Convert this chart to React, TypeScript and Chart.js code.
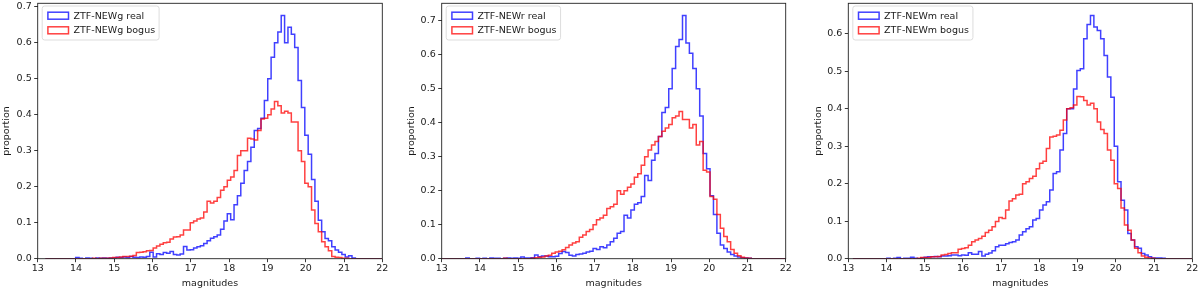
import React, { useEffect, useRef } from 'react';
import { Chart, registerables } from 'chart.js';

Chart.register(...registerables);

// ---------- data ----------
const magnitudeTicks = [13, 14, 15, 16, 17, 18, 19, 20, 21, 22];
const proportionTicks = [0, 0.1, 0.2, 0.3, 0.4, 0.5, 0.6, 0.7];
const magnitudeMin = 13;
const magnitudeMax = 22;

// histogram bin ranges (100 equal bins each)
const gBinRange = [13.2, 22.0];
const rBinRange = [13.0, 22.0];
const mBinRange = [13.12, 22.0];

const gLabels = ['ZTF-NEWg real', 'ZTF-NEWg bogus'];
const rLabels = ['ZTF-NEWr real', 'ZTF-NEWr bogus'];
const mLabels = ['ZTF-NEWm real', 'ZTF-NEWm bogus'];

const gReal = [
  0, 0, 0, 0, 0, 0, 0, 0, 0, 0.003,
  0.001, 0, 0.002, 0.001, 0, 0.002, 0.001, 0.002, 0.001, 0.002,
  0.002, 0.004, 0.003, 0.005, 0.003, 0.006, 0.004, 0.003, 0.005, 0.004,
  0.006, 0.018, 0.005, 0.014, 0.012, 0.017, 0.015, 0.02, 0.012, 0.01,
  0.013, 0.034, 0.024, 0.025, 0.03, 0.033, 0.036, 0.042, 0.05, 0.057,
  0.061, 0.066, 0.082, 0.105, 0.125, 0.108, 0.15, 0.175, 0.21, 0.245,
  0.27, 0.31, 0.356, 0.362, 0.39, 0.44, 0.5, 0.56, 0.6, 0.63,
  0.676, 0.6, 0.643, 0.624, 0.587, 0.495, 0.42, 0.343, 0.29, 0.22,
  0.16, 0.107, 0.075, 0.056, 0.05, 0.033, 0.024, 0.018, 0.012, 0.005,
  0.008, 0.002, 0, 0, 0, 0, 0, 0, 0, 0,
];
const gBogus = [
  0, 0, 0, 0, 0, 0, 0, 0, 0, 0,
  0, 0, 0, 0, 0.001, 0, 0.001, 0.001, 0.001, 0.002,
  0.003, 0.003, 0.005, 0.006, 0.006, 0.007, 0.009, 0.017, 0.018, 0.019,
  0.022, 0.023, 0.03, 0.035, 0.04, 0.044, 0.046, 0.055, 0.06, 0.061,
  0.066, 0.08, 0.08, 0.1, 0.105, 0.11, 0.113, 0.13, 0.16, 0.155,
  0.16, 0.17, 0.19, 0.2, 0.218, 0.227, 0.245, 0.287, 0.3, 0.3,
  0.335, 0.333, 0.33, 0.356, 0.388, 0.39, 0.4, 0.416, 0.437, 0.425,
  0.405, 0.41, 0.405, 0.38, 0.38, 0.3, 0.27, 0.21, 0.2, 0.135,
  0.098, 0.075, 0.047, 0.033, 0.022, 0.006, 0.004, 0.003, 0.001, 0.001,
  0, 0, 0, 0, 0, 0, 0, 0, 0, 0,
];

const rReal = [
  0, 0, 0, 0, 0, 0, 0, 0.002, 0, 0,
  0.001, 0, 0.001, 0, 0.002, 0.001, 0.001, 0, 0.001, 0.002,
  0.001, 0.002, 0.001, 0.005, 0.002, 0.002, 0.003, 0.011, 0.006, 0.008,
  0.008, 0.006, 0.006, 0.007, 0.015, 0.021, 0.018, 0.01, 0.008, 0.012,
  0.014, 0.016, 0.02, 0.022, 0.03, 0.027, 0.035, 0.032, 0.04, 0.05,
  0.06, 0.075, 0.08, 0.128, 0.12, 0.143, 0.16, 0.165, 0.183, 0.245,
  0.23, 0.29, 0.31, 0.36, 0.43, 0.445, 0.5, 0.56, 0.625, 0.645,
  0.716, 0.635, 0.605, 0.56, 0.5, 0.42, 0.31, 0.265, 0.185, 0.13,
  0.075, 0.04, 0.03, 0.02, 0.012, 0.008, 0.005, 0.003, 0.002, 0.001,
  0, 0, 0, 0, 0, 0, 0, 0, 0, 0,
];
const rBogus = [
  0, 0, 0, 0, 0, 0, 0, 0, 0, 0,
  0, 0, 0, 0, 0, 0, 0, 0, 0.001, 0,
  0, 0, 0, 0, 0, 0, 0.001, 0.003, 0.004, 0.005,
  0.008, 0.01, 0.016, 0.02, 0.022, 0.026, 0.033, 0.04, 0.046, 0.05,
  0.063, 0.07, 0.08, 0.086, 0.1, 0.115, 0.12, 0.128, 0.148, 0.153,
  0.16, 0.2, 0.19, 0.2, 0.21, 0.22, 0.24, 0.25, 0.275, 0.3,
  0.32, 0.335, 0.345, 0.36, 0.375, 0.385, 0.395, 0.415, 0.42, 0.433,
  0.41, 0.41, 0.385, 0.395, 0.335, 0.345, 0.26, 0.255, 0.183, 0.175,
  0.13, 0.09, 0.065, 0.05, 0.027, 0.016, 0.009, 0.004, 0.002, 0.001,
  0, 0, 0, 0, 0, 0, 0, 0, 0, 0,
];

const mReal = [
  0, 0, 0, 0, 0, 0, 0, 0, 0, 0,
  0.001, 0, 0.001, 0.003, 0, 0.001, 0.001, 0.004, 0.001, 0,
  0.002, 0.004, 0.005, 0.005, 0.006, 0.005, 0.007, 0.007, 0.008, 0.01,
  0.01, 0.008, 0.01, 0.009, 0.016, 0.012, 0.012, 0.019, 0.007, 0.012,
  0.015, 0.021, 0.032, 0.036, 0.036, 0.04, 0.043, 0.045, 0.05, 0.063,
  0.072, 0.08, 0.085, 0.103, 0.107, 0.13, 0.143, 0.152, 0.183, 0.227,
  0.232, 0.29, 0.334, 0.4, 0.4, 0.453, 0.502, 0.507, 0.587, 0.625,
  0.649, 0.618, 0.609, 0.587, 0.542, 0.485, 0.431, 0.3, 0.205, 0.156,
  0.13, 0.067, 0.05, 0.032, 0.028, 0.014, 0.01, 0.005, 0.002, 0.002,
  0.002, 0.001, 0, 0, 0, 0, 0, 0, 0, 0,
];
const mBogus = [
  0, 0, 0, 0, 0, 0, 0, 0, 0, 0,
  0, 0, 0, 0, 0, 0, 0, 0, 0, 0.001,
  0.003, 0.003, 0.003, 0.005, 0.005, 0.006, 0.01, 0.011, 0.014, 0.016,
  0.016, 0.025, 0.027, 0.029, 0.036, 0.045, 0.05, 0.054, 0.06, 0.07,
  0.076, 0.085, 0.099, 0.11, 0.107, 0.13, 0.154, 0.16, 0.17, 0.172,
  0.2, 0.205, 0.214, 0.22, 0.24, 0.255, 0.26, 0.294, 0.325, 0.327,
  0.33, 0.343, 0.37, 0.4, 0.403, 0.41, 0.433, 0.432, 0.422, 0.41,
  0.415, 0.4, 0.365, 0.345, 0.334, 0.29, 0.263, 0.2, 0.187, 0.135,
  0.09, 0.076, 0.05, 0.028, 0.016, 0.007, 0.004, 0.002, 0.001, 0,
  0, 0, 0, 0, 0, 0, 0, 0, 0, 0,
];

const panels = [
  { binRange: gBinRange, real: gReal, bogus: gBogus, labels: gLabels },
  { binRange: rBinRange, real: rReal, bogus: rBogus, labels: rLabels },
  { binRange: mBinRange, real: mReal, bogus: mBogus, labels: mLabels },
];

// ---------- layout / style ----------
const panelLayout = [
  { left: 0, yAxisWidth: 37.7, rightPad: 17.7, yTitleOffset: 1 },
  { left: 400, yAxisWidth: 41.7, rightPad: 14.3, yTitleOffset: 6 },
  { left: 800, yAxisWidth: 48.3, rightPad: 7.7, yTitleOffset: 12.6 },
];
const FONT = "'DejaVu Sans', 'Liberation Sans', sans-serif";
const FONT_SIZE = 9.5;
const TEXT_COLOR = '#1a1a1a';
const BLUE = 'rgba(0,0,255,0.75)';
const RED = 'rgba(255,0,0,0.75)';
const LINE_WIDTH = 1.5;

function histPoints(range: number[], values: number[]) {
  const w = (range[1] - range[0]) / values.length;
  const pts: { x: number; y: number }[] = [{ x: range[0], y: 0 }];
  values.forEach((v, i) => pts.push({ x: range[0] + i * w, y: v }));
  pts.push({ x: range[1], y: 0 });
  return pts;
}

const framePlugin = {
  id: 'mplFrame',
  afterDatasetsDraw(chart: any) {
    const { ctx, chartArea: a } = chart;
    ctx.save();
    ctx.strokeStyle = '#222';
    ctx.lineWidth = 0.9;
    ctx.strokeRect(a.left, a.top, a.right - a.left, a.bottom - a.top);
    ctx.restore();
  },
};

const legendPlugin = {
  id: 'mplLegend',
  afterDraw(chart: any) {
    const { ctx, chartArea: a } = chart;
    const items = chart.data.datasets.map((d: any) => ({ label: d.label, color: d.borderColor }));
    ctx.save();
    ctx.font = `${FONT_SIZE}px ${FONT}`;
    const textW = Math.max(...items.map((it: any) => ctx.measureText(it.label).width));
    const x0 = a.left + 4.5;
    const y0 = a.top + 2.7;
    const w = 31.3 + textW + 4;
    const h = 34;
    ctx.beginPath();
    (ctx as any).roundRect(x0, y0, w, h, 2.5);
    ctx.fillStyle = 'rgba(255,255,255,0.8)';
    ctx.fill();
    ctx.strokeStyle = '#d4d4d4';
    ctx.lineWidth = 0.8;
    ctx.stroke();
    items.forEach((it: any, i: number) => {
      const cy = y0 + 9.7 + i * 14.6;
      ctx.strokeStyle = it.color;
      ctx.lineWidth = LINE_WIDTH;
      ctx.strokeRect(x0 + 5.7, cy - 3.5, 20.6, 7);
      ctx.fillStyle = TEXT_COLOR;
      ctx.textBaseline = 'middle';
      ctx.textAlign = 'left';
      ctx.fillText(it.label, x0 + 31.3, cy + 0.5);
    });
    ctx.restore();
  },
};

function HistPanel({ index }: { index: number }) {
  const ref = useRef<HTMLCanvasElement>(null);
  const panel = panels[index];
  const layout = panelLayout[index];

  useEffect(() => {
    if (!ref.current) return;
    const yMax = Math.max(...panel.real, ...panel.bogus) * 1.05;
    const font = { family: FONT, size: FONT_SIZE };
    const grid = {
      display: true,
      drawOnChartArea: false,
      drawTicks: true,
      tickLength: 3.5,
      color: '#222',
      lineWidth: 0.9,
    };
    const chart = new Chart(ref.current, {
      type: 'line',
      data: {
        datasets: [
          {
            label: panel.labels[0],
            data: histPoints(panel.binRange, panel.real),
            borderColor: BLUE,
            borderWidth: LINE_WIDTH,
            stepped: true,
            pointRadius: 0,
            fill: false,
            order: 1,
          },
          {
            label: panel.labels[1],
            data: histPoints(panel.binRange, panel.bogus),
            borderColor: RED,
            borderWidth: LINE_WIDTH,
            stepped: true,
            pointRadius: 0,
            fill: false,
            order: 0,
          },
        ],
      },
      options: {
        responsive: false,
        animation: false,
        devicePixelRatio: 1,
        layout: { padding: { top: 3.3, right: layout.rightPad, left: 0, bottom: 0 } },
        plugins: { legend: { display: false }, tooltip: { enabled: false } },
        scales: {
          x: {
            type: 'linear',
            min: magnitudeMin,
            max: magnitudeMax,
            afterBuildTicks: (s: any) => {
              s.ticks = magnitudeTicks.map((v) => ({ value: v }));
            },
            afterFit: (s: any) => {
              s.height = 32.3;
              s.paddingLeft = 0;
              s.paddingRight = 0;
            },
            ticks: { font, color: TEXT_COLOR, padding: 1, maxRotation: 0, autoSkip: false, callback: (v: any) => String(v) },
            grid,
            border: { display: false },
            title: { display: true, text: 'magnitudes', font, color: TEXT_COLOR, padding: { top: 0, bottom: 2 } },
          },
          y: {
            type: 'linear',
            min: 0,
            max: yMax,
            afterBuildTicks: (s: any) => {
              s.ticks = proportionTicks.filter((v) => v <= yMax).map((v) => ({ value: v }));
            },
            afterFit: (s: any) => {
              s.width = layout.yAxisWidth;
              s.paddingTop = 0;
              s.paddingBottom = 0;
            },
            ticks: { font, color: TEXT_COLOR, padding: 2.5, autoSkip: false, callback: (v: any) => Number(v).toFixed(1) },
            grid,
            border: { display: false },
            title: { display: true, text: 'proportion', font, color: TEXT_COLOR, padding: { top: layout.yTitleOffset, bottom: 0 } },
          },
        },
      } as any,
      plugins: [framePlugin, legendPlugin],
    } as any);
    return () => chart.destroy();
  }, []);

  return (
    <canvas
      ref={ref}
      width={400}
      height={291}
      style={{ position: 'absolute', left: layout.left, top: 0, width: 400, height: 291 }}
    />
  );
}

export default function App() {
  return (
    <div style={{ position: 'absolute', left: 0, top: 0, width: 1200, height: 291, background: '#fff' }}>
      {panels.map((_, i) => (
        <HistPanel key={i} index={i} />
      ))}
    </div>
  );
}
